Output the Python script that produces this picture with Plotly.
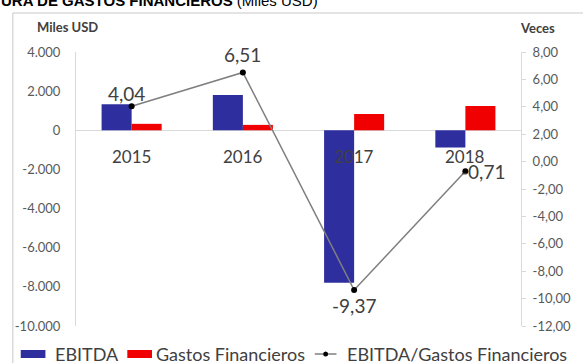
import plotly.graph_objects as go

# --- data -------------------------------------------------------------
years = ["2015", "2016", "2017", "2018"]
ebitda = [1330, 1800, -7790, -880]          # Miles USD
gastos = [330, 276, 831, 1240]              # Miles USD
ratio = [4.04, 6.51, -9.37, -0.71]          # EBITDA / Gastos Financieros (veces)

left_ticks = [4000, 2000, 0, -2000, -4000, -6000, -8000, -10000]
right_ticks = [8, 6, 4, 2, 0, -2, -4, -6, -8, -10, -12]

series_names = ["EBITDA", "Gastos Financieros", "EBITDA/Gastos Financieros"]


def miles(v):
    return f"{v:,.0f}".replace(",", ".")


def veces(v):
    return f"{v:.2f}".replace(".", ",")


# --- geometry ---------------------------------------------------------
W, H = 583, 363
ML, MR, MT, MB = 76, 56, 52, 37
PW, PH = W - ML - MR, H - MT - MB


def px(x):
    return (x - ML) / PW


def py(y):
    return (H - MB - y) / PH


BLUE = "#2E2E9E"
RED = "#F00000"
TXT = "#404040"
AXT = "#595959"
LIGHT = "#D9D9D9"
FONT = "Lato"

fig = go.Figure()
fig.add_trace(go.Bar(x=years, y=ebitda, name=series_names[0],
                     marker=dict(color=BLUE, line=dict(width=0))))
fig.add_trace(go.Bar(x=years, y=gastos, name=series_names[1],
                     marker=dict(color=RED, line=dict(width=0))))
fig.add_trace(go.Scatter(x=years, y=ratio, name=series_names[2], yaxis="y2",
                         mode="lines+markers",
                         line=dict(color="#7F7F7F", width=1.5),
                         marker=dict(color="black", size=6)))

annotations = []

# category labels sit just under the zero line
for i, yr in enumerate(years):
    annotations.append(dict(x=i, y=0, xref="x", yref="y", text=yr,
                            showarrow=False, yshift=-26,
                            xanchor="center", yanchor="middle",
                            font=dict(family=FONT, size=17, color=TXT)))

# ratio data labels
label_pos = [  # (xanchor, xshift, yshift)
    ("center", -5, 13),
    ("center", 0, 18),
    ("center", 0, -16),
    ("left", -6, 0),
]
for i, (v, (xa, xs, ys)) in enumerate(zip(ratio, label_pos)):
    annotations.append(dict(x=i, y=v, xref="x", yref="y2", text=veces(v),
                            showarrow=False, xanchor=xa, yanchor="middle",
                            xshift=xs, yshift=ys,
                            font=dict(family=FONT, size=19, color=TXT)))

# axis titles
annotations.append(dict(x=px(67), y=py(27), xref="paper", yref="paper",
                        xanchor="center", yanchor="middle",
                        text="<b>Miles USD</b>", showarrow=False,
                        font=dict(family=FONT, size=13, color=TXT)))
annotations.append(dict(x=px(544), y=py(28), xref="paper", yref="paper",
                        xanchor="center", yanchor="middle",
                        text="<b>Veces</b>", showarrow=False,
                        font=dict(family=FONT, size=13, color=TXT)))

# page heading (clipped at the top edge)
annotations.append(dict(x=px(-2), y=py(0), xref="paper", yref="paper",
                        xanchor="left", yanchor="middle",
                        text="<b>URA DE GASTOS FINANCIEROS</b> (Miles USD)",
                        showarrow=False,
                        font=dict(family="Liberation Sans", size=15, color="black")))

# legend
leg_y = 354
shapes = [
    dict(type="rect", xref="paper", yref="paper",
         x0=px(12), x1=px(620), y0=py(13), y1=py(400),
         line=dict(color="#C8C8C8", width=1), fillcolor="rgba(0,0,0,0)", layer="below"),
    dict(type="rect", xref="paper", yref="paper",
         x0=px(20), x1=px(45), y0=py(350), y1=py(358),
         line=dict(width=0), fillcolor=BLUE),
    dict(type="rect", xref="paper", yref="paper",
         x0=px(128), x1=px(153), y0=py(350), y1=py(358),
         line=dict(width=0), fillcolor=RED),
    dict(type="line", xref="paper", yref="paper",
         x0=px(318), x1=px(340), y0=py(leg_y), y1=py(leg_y),
         line=dict(color="#7F7F7F", width=1.5)),
    dict(type="circle", xref="paper", yref="paper",
         x0=px(326.5), x1=px(331.5), y0=py(leg_y - 2.5), y1=py(leg_y + 2.5),
         line=dict(width=0), fillcolor="black"),
]
for name, x0 in zip(series_names, [53, 155, 349]):
    annotations.append(dict(x=px(x0), y=py(leg_y), xref="paper", yref="paper",
                            xanchor="left", yanchor="middle", text=name,
                            showarrow=False,
                            font=dict(family=FONT, size=18, color=TXT)))

fig.update_layout(
    width=W, height=H,
    margin=dict(l=ML, r=MR, t=MT, b=MB, pad=0),
    paper_bgcolor="white", plot_bgcolor="white",
    barmode="group", bargap=0.46, bargroupgap=0,
    showlegend=False,
    font=dict(family=FONT, color=AXT),
    xaxis=dict(range=[-0.5, 3.5], showticklabels=False, showline=False,
               showgrid=False, zeroline=False, ticks="", fixedrange=True),
    yaxis=dict(range=[-10000, 4000], tickvals=left_ticks,
               ticktext=[miles(v) for v in left_ticks],
               showgrid=False, zeroline=True, zerolinecolor=LIGHT, zerolinewidth=1,
               showline=True, linecolor=LIGHT, linewidth=1, ticks="",
               ticklabelstandoff=12,
               tickfont=dict(family=FONT, size=13, color=AXT)),
    yaxis2=dict(range=[-12, 8], overlaying="y", side="right",
                tickvals=right_ticks, ticktext=[veces(v) for v in right_ticks],
                showgrid=False, zeroline=False, showline=True, linecolor=LIGHT,
                linewidth=1, ticks="outside", ticklen=4, tickcolor=LIGHT,
                ticklabelstandoff=4,
                tickfont=dict(family=FONT, size=13, color=AXT)),
    annotations=annotations,
    shapes=shapes,
)

fig.write_html("out.html")
